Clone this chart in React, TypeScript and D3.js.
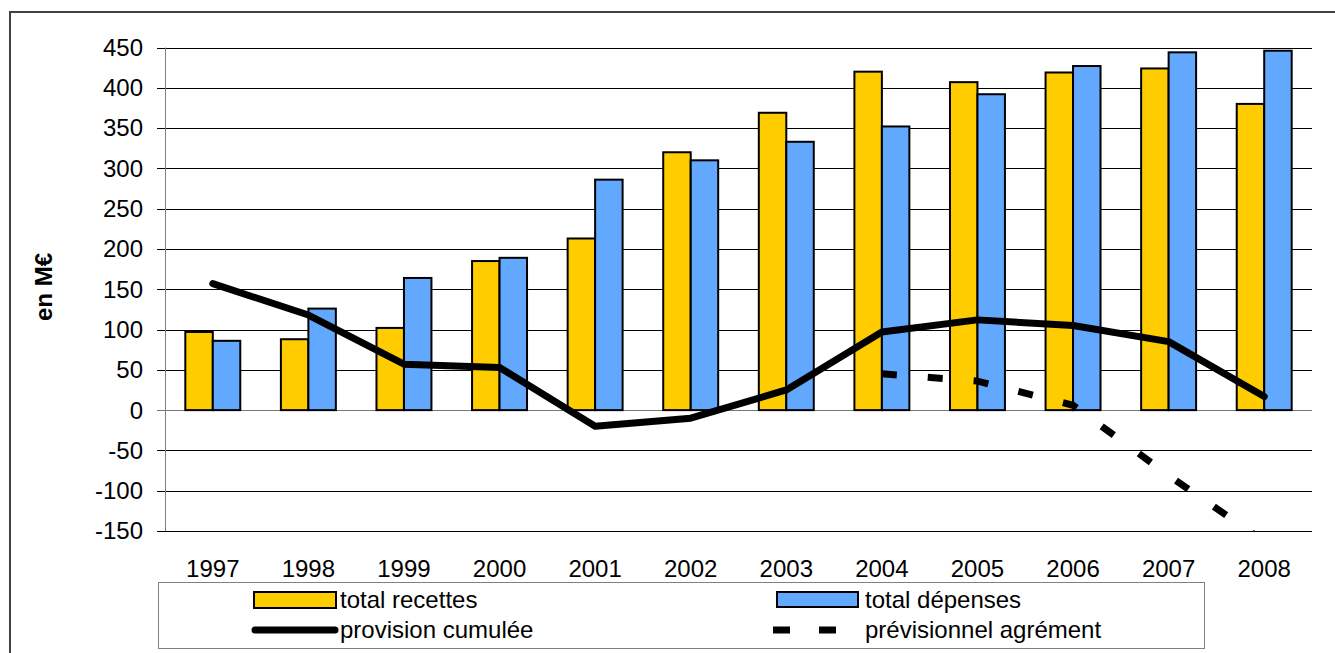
import React from "react";
import * as d3 from "d3";

const years = ["1997","1998","1999","2000","2001","2002","2003","2004","2005","2006","2007","2008"];
const totalRecettes = [97, 88, 102, 185, 213, 320, 369, 420, 407, 419, 424, 380];
const totalDepenses = [86, 126, 164, 189, 286, 310, 333, 352, 392, 427, 444, 446];
const provisionCumulee = [157, 118, 57, 53, -20, -10, 25, 97, 112, 105, 85, 17];
const previsionnelYears = ["2004","2005","2006","2007","2008"];
const previsionnelAgrement = [45, 36, 6, -81, -163];
const yTicks = [-150, -100, -50, 0, 50, 100, 150, 200, 250, 300, 350, 400, 450];
const seriesNames = ["total recettes", "total dépenses"];
const seriesColors = ["#FFCC00", "#63A8FF"];

const W = 1335, H = 653;
const plot = { left: 165, right: 1312, top: 47.5, bottom: 531 };
const FONT = "Arial, 'Liberation Sans', sans-serif";

export default function App() {
  const x = d3.scaleBand<string>().domain(years).range([plot.left, plot.right]).paddingInner(0.425).paddingOuter(0.2125);
  const x1 = d3.scaleBand<string>().domain(seriesNames).range([0, x.bandwidth()]);
  const y = d3.scaleLinear().domain([-150, 450]).range([plot.bottom, plot.top]);
  const cx = (yr: string) => (x(yr) as number) + x.bandwidth() / 2;

  const line = d3.line<[string, number]>().x(d => cx(d[0])).y(d => y(d[1]));
  const provPath = line(years.map((yr, i) => [yr, provisionCumulee[i]] as [string, number])) || "";
  const prevPath = line(previsionnelYears.map((yr, i) => [yr, previsionnelAgrement[i]] as [string, number])) || "";

  const seriesData = [totalRecettes, totalDepenses];

  return (
    <svg width={W} height={H} style={{ position: "absolute", left: 0, top: 0, background: "#fff" }} fontFamily={FONT}>
      <defs>
        <clipPath id="plotClip">
          <rect x={plot.left} y={plot.top - 10} width={plot.right - plot.left} height={plot.bottom - plot.top + 10} />
        </clipPath>
      </defs>
      <rect x={0} y={0} width={W} height={H} fill="#fff" />
      <rect x={10} y={12} width={1400} height={700} fill="none" stroke="#404040" strokeWidth={2} />

      {/* gridlines and y ticks */}
      {yTicks.map(t => (
        <g key={t}>
          <line x1={plot.left - 8} x2={plot.right} y1={Math.round(y(t)) + 0.5} y2={Math.round(y(t)) + 0.5}
            stroke={t === 0 ? "#777" : "#000"} strokeWidth={1} />
          <text x={143} y={y(t)} dy="0.35em" textAnchor="end" fontSize={24} fill="#000">{t}</text>
        </g>
      ))}
      <line x1={plot.left + 0.5} x2={plot.left + 0.5} y1={plot.top} y2={plot.bottom} stroke="#808080" strokeWidth={1} />

      {/* bars */}
      {seriesData.map((vals, s) => (
        <g key={s}>
          {years.map((yr, i) => {
            const v = vals[i];
            const y0 = y(0), yv = y(v);
            return (
              <rect key={yr}
                x={(x(yr) as number) + (x1(seriesNames[s]) as number)}
                y={Math.min(y0, yv)}
                width={x1.bandwidth()}
                height={Math.abs(y0 - yv)}
                fill={seriesColors[s]} stroke="#000" strokeWidth={2} />
            );
          })}
        </g>
      ))}

      {/* lines */}
      <g clipPath="url(#plotClip)">
        <path d={provPath} fill="none" stroke="#000" strokeWidth={7} strokeLinejoin="round" strokeLinecap="round" />
        <path d={prevPath} fill="none" stroke="#000" strokeWidth={7} strokeDasharray="15 31" />
      </g>

      {/* x labels */}
      {years.map(yr => (
        <text key={yr} x={cx(yr)} y={577} textAnchor="middle" fontSize={24} fill="#000">{yr}</text>
      ))}

      {/* y axis title */}
      <text transform={`translate(52,287) rotate(-90)`} textAnchor="middle" fontSize={24} fontWeight="bold" fill="#000">en M€</text>

      {/* legend */}
      <rect x={158.5} y={582.5} width={1046} height={66} fill="#fff" stroke="#808080" strokeWidth={1} />
      <rect x={254} y={592} width={82} height={16} fill={seriesColors[0]} stroke="#000" strokeWidth={2} />
      <text x={340} y={608} fontSize={24} fill="#000">{seriesNames[0]}</text>
      <line x1={255} x2={335} y1={630} y2={630} stroke="#000" strokeWidth={7} strokeLinecap="round" />
      <text x={340} y={638} fontSize={24} fill="#000">provision cumulée</text>
      <rect x={777} y={592} width={81} height={15} fill={seriesColors[1]} stroke="#000" strokeWidth={2} />
      <text x={865} y={608} fontSize={24} fill="#000">{seriesNames[1]}</text>
      <line x1={773} x2={837} y1={630} y2={630} stroke="#000" strokeWidth={7} strokeDasharray="17 29" />
      <text x={865} y={638} fontSize={24} fill="#000">prévisionnel agrément</text>
    </svg>
  );
}
